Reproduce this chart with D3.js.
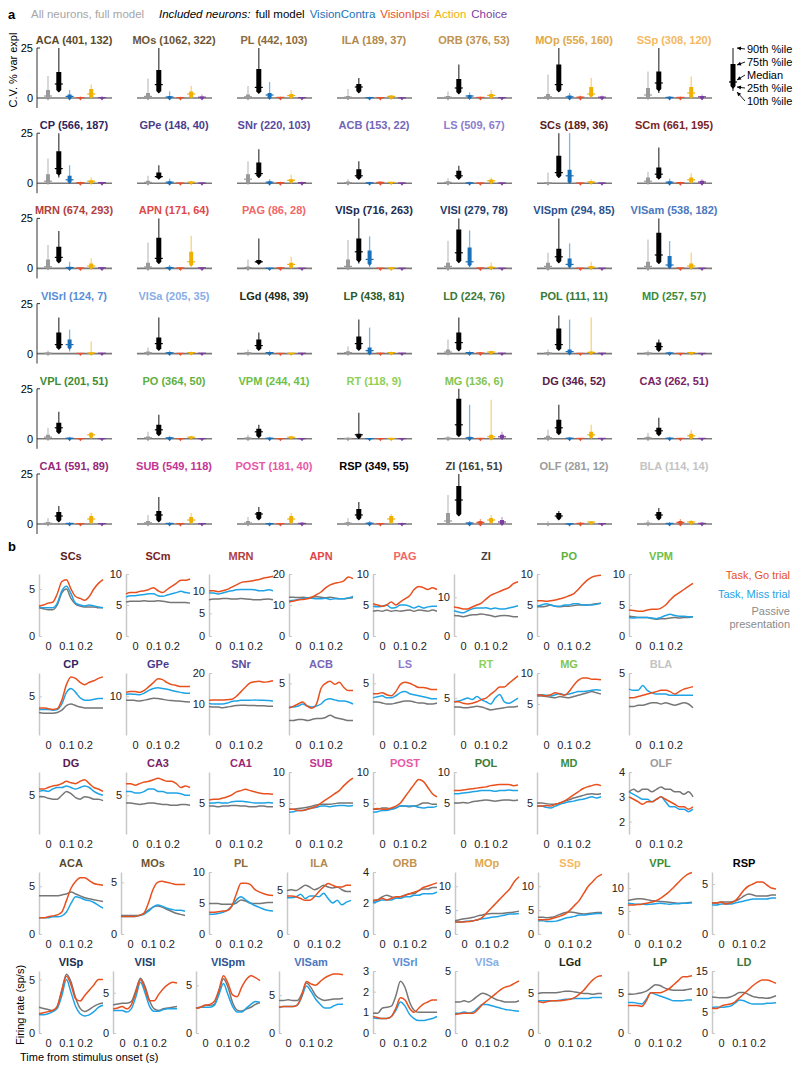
<!DOCTYPE html>
<html><head><meta charset="utf-8">
<script src="https://cdn.jsdelivr.net/npm/d3@7"></script>
<style>body{margin:0;background:#fff}svg{display:block}text{font-family:"Liberation Sans",Arial,sans-serif}</style>
</head><body>
<script>
// ---------------- Panel a data ----------------
const aRegions = ["ACA","MOs","PL","ILA","ORB","MOp","SSp",
 "CP","GPe","SNr","ACB","LS","SCs","SCm",
 "MRN","APN","PAG","VISp","VISl","VISpm","VISam",
 "VISrl","VISa","LGd","LP","LD","POL","MD",
 "VPL","PO","VPM","RT","MG","DG","CA3",
 "CA1","SUB","POST","RSP","ZI","OLF","BLA"];
const aCounts = [[401,132],[1062,322],[442,103],[189,37],[376,53],[556,160],[308,120],
 [566,187],[148,40],[220,103],[153,22],[509,67],[189,36],[661,195],
 [674,293],[171,64],[86,28],[716,263],[279,78],[294,85],[538,182],
 [124,7],[205,35],[498,39],[438,81],[224,76],[111,11],[257,57],
 [201,51],[364,50],[244,41],[118,9],[136,6],[346,52],[262,51],
 [591,89],[549,118],[181,40],[349,55],[161,51],[281,12],[114,14]];
// percentiles [10th,25th,median,75th,90th] of % variance explained
const allFull = [[0,0,1,4,11],[0,0,0.8,2.5,9.7],[0,0,0.6,1.7,6],[0,0,0.4,1,4.5],[0,0,0.4,1,3.3],[0,0,0.6,2,11.7],[0,0.3,1.5,5,13.3],
 [0,0.3,1,4.5,12.3],[0,0,0.4,1.2,3.7],[0,0.3,2,4.5,11],[0,0,0.3,0.8,2],[0,0,0.4,1,2.5],[0,0,0.2,0.5,5.3],[0,0.3,1,2.8,5.7],
 [0,0.2,0.8,4.5,11.7],[0,0,0.7,2.8,13],[0,0,0.4,1,4.5],[0,0.2,1,4.5,14.2],[0,0,1,2.8,13.8],[0,0,1,2.8,7.8],[0,0,1,3.3,14.5],
 [0,0,0.2,0.5,1.5],[0,0,0.4,1,3],[0,0,0.3,0.8,2],[0,0,0.5,1.2,3.5],[0,0.2,0.8,2,7],[0,0,0.3,0.8,2],[0,0,0.3,0.6,1.5],
 [0,0.2,0.8,2,5.5],[0,0,0.5,1.2,3.5],[0,0,0.3,0.8,2],[0,0,0.2,0.4,1],[0,0,0.3,0.6,1.5],[0,0,0.5,1.5,4.5],[0,0,0.4,1,3],
 [0,0,0.4,1,3],[0,0,0.6,1.5,4.5],[0,0,0.5,1.5,3.5],[0,0,0.4,1,3],[0,0.5,1.5,5.5,14.5],[0,0,0.2,0.5,1.5],[0,0,0.3,0.7,2]];
const inclFull = [[3,4,7,13,25],[3.3,3.5,6.7,14,25],[3,3.3,5.3,14.5,25],[3.3,3.5,5.5,7,10],[2.8,3,5,9.5,16.7],[3.5,4,6.7,16.7,25],[2.5,4.5,7.5,13.3,25],
 [2.8,5,7.3,16,25],[2.8,3,3.3,5.3,9],[2.8,3.7,4.8,10.3,17],[2.5,2.8,3.7,7,11],[2.5,2.8,3.7,6.2,8.7],[3.5,3.7,5.3,13.7,25],[2.8,3,4.5,7.8,17.8],
 [3.5,3.7,5.5,10.8,18.7],[3,3.3,5,15.3,25],[2.8,3,3.3,4.2,15],[2.5,4.2,8.3,15,25],[3,3.8,7.8,19.5,25],[3.2,3.7,5.8,9.8,25],[3,3.3,6.7,17.8,25],
 [2.5,3,4.5,10.5,18],[2,2.5,5,8,18],[2,2.5,4,7,10.5],[2,2.5,5,8.5,17],[2,2.3,5.5,10.5,18],[2,2.5,4.5,12.5,19],[1.8,2,3.5,5.5,7],
 [3,3.5,5.5,8,13.5],[2,2.5,4.5,7,12],[1.2,1.5,3.5,5,7],[0.8,1,2,2.5,13],[1.5,2,7,20,25],[2.5,3,5.5,9.5,17],[2,2.5,4,5.5,10.5],
 [1.5,2,4,6,9],[1.5,2,4.5,6.5,13.5],[2.5,3,5,6,8.5],[2.5,3,4.5,7.5,11],[4,5,12,19,25],[2.5,3,4,5.5,6.5],[2.5,3,4.5,6,8]];
const visContra = [[0,0,0.8,1.7,4],[0,0,0.5,1,3.3],[0,0.3,1.5,2.5,8],[0,0,0.2,0.4,0.7],[0,0.3,1,1.5,2.8],[0,0,0.6,1.2,2.5],[0,0,0.3,0.6,1],
 [0,0.7,1.7,3.7,9],[0,0,0.5,1,2.3],[0,0,0.5,1,2],[0,0,0.2,0.4,0.8],[0,0,0.2,0.4,0.8],[0,0.7,3.7,6.7,25],[0,0,0.5,1,2.3],
 [0,0,0.4,0.8,3.3],[0,0,0.4,0.8,1.7],[0,0,0.1,0.2,0.3],[0.5,2.5,4.5,9,16],[0.5,2,3.3,10.5,19],[0.5,1.2,2,5,12.5],[0.3,0.8,1.7,6.2,13.7],
 [1,3,4.5,7,12],[0,0,0.4,0.8,1.5],[0,0,0.5,0.8,1.5],[0,0.3,1.5,3,13],[0,0,0.5,0.8,1.5],[0,0.3,1,2,17],[0,0,0.3,0.5,1],
 [0,0,0.3,0.5,1],[0,0,0.5,0.8,1.5],[0,0,0.3,0.5,1],[0,0,0.1,0.2,0.4],[0,0,0.5,1,17],[0,0,0.3,0.5,1],[0,0,0.3,0.5,1],
 [0,0,0.3,0.5,1],[0,0,0.3,0.5,1],[0,0,0.2,0.4,0.8],[0,0,0.4,0.8,1.5],[0,0,0.5,0.8,1.5],[0,0,0.1,0.2,0.5],[0,0,0.3,0.5,1]];
const visIpsi = [[0,0,0.2,0.4,0.8],[0,0,0.2,0.4,0.7],[0,0,0.3,0.5,0.8],[0,0,0.2,0.3,0.5],[0,0,0.3,0.5,0.8],[0,0,0.4,0.7,1.2],[0,0,0.3,0.5,0.8],
 [0,0,0.3,0.5,0.8],[0,0,0.1,0.2,0.3],[0,0,0.3,0.5,0.8],[0,0,0.4,0.7,1],[0,0,0.1,0.2,0.3],[0,0,0.1,0.2,0.3],[0,0,0.3,0.5,0.8],
 [0,0,0.2,0.4,0.5],[0,0,0.2,0.4,0.5],[0,0,0.3,0.5,0.8],[0,0,0.1,0.2,0.3],[0,0,0.2,0.3,0.5],[0,0,0.1,0.2,0.3],[0,0,0.2,0.3,0.5],
 [0,0,0.1,0.2,0.3],[0,0,0.1,0.2,0.3],[0,0,0.1,0.2,0.3],[0,0,0.2,0.3,0.5],[0,0,0.3,0.5,0.8],[0,0,0.1,0.2,0.3],[0,0,0.1,0.2,0.3],
 [0,0,0.1,0.2,0.3],[0,0,0.1,0.2,0.3],[0,0,0.1,0.2,0.3],[0,0,0.1,0.2,0.3],[0,0,0.2,0.3,0.5],[0,0,0.2,0.3,0.5],[0,0,0.2,0.3,0.5],
 [0,0,0.2,0.3,0.5],[0,0,0.2,0.3,0.5],[0,0,0.2,0.3,0.5],[0,0,0.2,0.3,0.5],[0,0,0.8,1.5,2.5],[0,0,0.3,0.6,1],[0,0,0.8,1.5,2.5]];
const action = [[0.5,0.8,2,4.5,6.7],[0.5,0.8,2,3.3,6],[0.3,0.5,1.2,2,4],[0,0.3,0.8,1.2,1.5],[0.3,0.5,1.3,2,4],[0.8,1.3,2,5.5,10],[0.3,0.8,2.5,5.5,10.8],
 [0,0.3,1,1.5,2.8],[0,0.2,0.5,0.8,1.2],[0.3,0.8,1.5,2,4.2],[0,0.2,0.4,0.6,0.8],[0.2,0.5,1.2,1.8,2.8],[0,0.3,0.6,1,2],[0.5,0.8,1.7,2.8,5],
 [0.3,0.5,1.2,2.5,5],[1.7,2,3.3,8.3,16.3],[0.3,0.8,2,2.8,5.8],[0,0,0.2,0.4,0.5],[0,0.2,0.5,1,3],[0,0.3,0.6,1.2,3.3],[0.3,0.5,1.2,2.5,7.8],
 [0,0,0.3,0.6,6],[0,0.2,0.5,0.8,1],[0,0,0.2,0.3,0.5],[0,0.2,0.5,0.8,1],[0,0.3,0.8,1.2,1.5],[0,0.3,0.6,1,18],[0,0.2,0.5,0.8,1],
 [0.5,1,2,3,3.5],[0.2,0.5,0.8,1.2,1.5],[0.2,0.5,0.8,1.2,1.5],[0,0,0.2,0.3,0.5],[0,0.3,1,2,19.5],[0.5,1,2,3.5,7],[0.3,0.5,1.5,2.5,4.5],
 [0.5,1,2.5,4,5.5],[0.5,1,2,3.5,5.5],[0.5,1,2.5,4,5.5],[0.5,1,2.5,4,5],[0.5,1,2,3,4.5],[0.3,0.5,1,1.2,1.5],[0.3,0.5,1,1.5,2]];
const choice = [[0,0,0.2,0.5,1],[0,0,0.4,0.8,1.7],[0,0,0.2,0.3,0.5],[0,0,0.1,0.2,0.3],[0,0,0.2,0.3,0.5],[0,0,0.4,0.8,1.3],[0,0,0.6,1,1.8],
 [0,0,0.3,0.5,0.7],[0,0,0.1,0.2,0.3],[0,0,0.3,0.5,0.8],[0,0,0.1,0.2,0.3],[0,0,0.1,0.2,0.3],[0,0,0.1,0.2,0.3],[0,0,0.6,1.2,2],
 [0,0,0.3,0.5,0.7],[0,0,0.3,0.5,0.7],[0,0,0.1,0.2,0.3],[0,0,0.1,0.2,0.3],[0,0,0.1,0.2,0.3],[0,0,0.1,0.2,0.3],[0,0,0.1,0.2,0.3],
 [0,0,0.2,0.3,0.5],[0,0,0.2,0.3,0.5],[0,0,0.2,0.3,0.5],[0,0,0.2,0.3,0.5],[0,0,0.2,0.3,0.5],[0,0,0.2,0.3,0.5],[0,0,0.1,0.2,0.3],
 [0,0,0.1,0.2,0.3],[0,0,0.1,0.2,0.3],[0,0,0.1,0.2,0.3],[0,0,0.1,0.2,0.3],[0,0.5,1,2,3.5],[0,0,0.2,0.3,0.5],[0,0,0.2,0.3,0.5],
 [0,0,0.2,0.3,0.5],[0,0,0.2,0.3,0.5],[0,0,0.3,0.6,1],[0,0,0.2,0.4,0.8],[0,0.3,1,2,3.5],[0,0,0.2,0.3,0.5],[0,0,0.3,0.6,1]];
const aAxisTicks = [0,25];

// ---------------- Panel b data ----------------
const tPoints = [-0.05,-0.025,0,0.025,0.05,0.075,0.1,0.125,0.15,0.175,0.2,0.225,0.25,0.275,0.3];
const xTicks = [0,0.1,0.2];
const bRegions = ["SCs","SCm","MRN","APN","PAG","ZI","PO","VPM",
 "CP","GPe","SNr","ACB","LS","RT","MG","BLA",
 "DG","CA3","CA1","SUB","POST","POL","MD","OLF",
 "ACA","MOs","PL","ILA","ORB","MOp","SSp","VPL","RSP",
 "VISp","VISl","VISpm","VISam","VISrl","VISa","LGd","LP","LD"];
const bYDomain = [[0,6.6],[0,10],[0,13.7],[0,20],[0,10],[0,16],[0,10],[0,10],
 [0,8],[0,16],[0,20],[0,6],[0,6],[0,8.4],[0,10],[0,5],
 [0,8],[0,8],[0,10],[0,10],[0,10],[0,10],[0,10],[1.5,4],
 [0,6.5],[0,6],[0,10],[0,7],[0,4],[0,13],[0,13],[0,13.5],[0,6.2],
 [0,5.8],[0,7.7],[0,6.5],[0,8.2],[0,3],[0,5],[0,7.7],[0,7.7],[0,15]];
const bYTicks = [[0,5],[0,5,10],[0,5,10],[0,10,20],[0,5,10],[0,10],[0,5,10],[0,5,10],
 [5],[10],[10,20],[5],[5],[5],[5,10],[5],
 [5],[5],[5],[5,10],[5,10],[5,10],[5],[2,3,4],
 [0,5],[0,5],[0,5,10],[0,5],[0,2,4],[0,5,10],[0,5,10],[0,5,10],[0,5],
 [0,5],[0,5],[0,5],[0,5],[0,1,2,3],[0,5],[0,5],[0,5],[0,5,10,15]];
const goTrial = [
 [3.2,3.3,3.5,3.6,4.5,5.8,6.0,5.0,4.2,4.0,3.8,4.2,5.0,5.6,6.0],
 [6.8,7.0,7.0,7.2,7.3,7.5,7.8,7.3,7.0,7.5,8.0,8.5,9.0,9.0,9.2],
 [10.0,10.0,9.8,10.0,10.3,10.8,11.3,11.8,12.0,12.1,12.3,12.5,12.8,13.0,13.2],
 [11,11.3,11.6,11.8,12,12.5,13.3,14.2,15.5,16.5,17,17.3,17.8,19,18.5],
 [5.2,5.0,4.8,5.0,5.5,5.0,5.5,6.0,6.5,7.5,8.0,7.8,7.5,7.8,7.5],
 [7.5,7.3,7.0,7.0,7.5,8.0,8.5,9.5,10.5,11.0,11.5,12.0,12.5,13.5,14.0],
 [5.7,5.7,5.6,5.7,5.8,6.0,6.2,6.5,6.8,7.5,8.3,9.0,9.5,9.7,9.8],
 [4.2,4.1,4.0,4.0,4.2,4.3,4.3,4.5,5.0,5.8,6.5,7.0,7.5,8.0,8.5],
 [3.5,3.5,3.4,3.3,3.4,4.5,6.5,7.5,7.3,6.8,6.5,6.8,7.0,7.3,7.5],
 [11,11.2,11.2,11.0,11.5,12.5,13.5,14.5,14.3,13.5,13.0,12.8,12.5,12.5,12.5],
 [11.2,11.3,11.3,11.3,11.4,11.5,12.5,14,15.5,16.8,17.2,17.3,17.0,17.2,17.5],
 [2.6,2.8,3.0,3.2,2.8,2.6,3.0,4.5,5.0,5.2,4.9,5.1,4.6,4.3,4.3],
 [4.0,4.0,4.1,3.9,3.8,4.2,4.9,5.1,5.0,4.8,4.6,4.6,4.5,4.4,4.4],
 [4.5,4.5,4.3,4.2,4.3,4.5,4.8,5.0,5.5,6.0,6.5,6.5,7.0,7.5,8.0],
 [6.5,6.4,6.3,6.5,6.8,6.6,6.4,7.0,8.0,8.8,9.2,9.2,9.0,9.0,8.9],
 [3.0,3.0,3.1,3.2,3.3,3.4,3.5,3.6,3.6,3.5,3.3,3.5,3.7,3.8,3.9],
 [5.8,5.8,6.0,6.2,6.3,6.5,6.8,6.6,6.5,6.8,7.0,6.5,6.0,5.8,5.5],
 [6.5,6.5,6.3,6.5,6.7,6.8,7.0,7.2,7.0,6.8,6.8,6.5,6.0,6.2,6.0],
 [5.5,5.6,5.6,5.8,6.0,6.3,6.8,7.0,7.2,7.0,6.8,6.6,6.5,6.5,6.4],
 [4.0,4.0,3.8,3.8,4.0,4.2,4.5,5.0,5.5,6.0,6.5,7.0,7.8,8.5,9.0],
 [4.0,4.1,4.0,4.0,4.2,4.5,5.0,6.0,7.0,8.0,8.8,8.5,7.5,6.5,6.0],
 [7.0,7.0,7.1,7.2,7.3,7.4,7.5,7.6,7.8,7.9,8.0,8.0,8.0,7.8,7.9],
 [4.5,4.5,4.6,4.5,4.8,5.0,5.3,5.8,6.3,6.8,7.3,7.6,7.8,8.0,7.8],
 [3.0,2.9,2.8,2.7,2.8,2.8,2.9,3.0,2.9,2.8,2.7,2.6,2.6,2.5,2.6],
 [1.7,1.7,1.8,1.9,2.0,2.3,3.5,4.8,5.5,5.9,5.9,5.6,5.3,5.2,5.1],
 [1.7,1.7,1.7,1.7,1.8,2.0,3.0,4.3,5.0,5.1,5.0,4.9,4.8,4.8,4.8],
 [3.5,3.5,3.6,3.7,3.8,4.5,6.5,8.2,8.2,8.0,7.2,6.8,6.5,6.3,6.2],
 [4.3,4.3,4.2,4.0,3.8,3.8,4.2,4.8,5.3,5.7,5.5,5.3,5.3,5.5,5.5],
 [2.2,2.2,2.3,2.2,2.3,2.4,2.4,2.5,2.6,2.7,2.8,3.0,3.1,3.2,3.3],
 [2.5,2.5,2.5,2.6,2.8,3.0,3.5,4.5,5.5,6.5,7.5,8.5,9.5,11,12],
 [3,3,3,3.2,3.5,3.8,4.2,5,6,7,8.5,10,11,12,12.5],
 [6.3,6.3,6.4,6.5,6.7,6.9,7.2,7.7,8.4,9.2,10.2,11.2,12.2,13.0,13.4],
 [3.1,3.1,3.2,3.0,3.1,3.3,3.8,4.4,4.8,5.0,5.2,5.2,4.9,4.6,4.5],
 [1.8,1.9,2.0,2.1,2.5,4.0,5.3,4.5,3.2,3.0,3.5,4.0,4.5,5.0,5.0],
 [3.0,3.1,3.3,3.0,3.5,5.0,6.6,5.5,4.0,4.0,4.8,5.5,6.0,6.3,6.2],
 [2.6,2.7,2.9,3.0,3.3,4.5,6.0,5.2,4.0,3.8,4.8,5.6,6.0,5.8,5.5],
 [3.4,3.5,3.5,3.5,3.7,5.0,6.8,6.5,6.3,6.8,7.3,7.6,7.8,7.8,7.7],
 [0.8,0.75,0.7,0.7,0.8,1.2,1.7,1.6,1.2,1.0,1.2,1.4,1.5,1.6,1.6],
 [1.5,1.55,1.6,1.6,1.6,1.9,2.3,2.6,2.9,3.2,3.5,3.7,3.8,4.0,4.2],
 [3.9,3.8,3.9,4.0,4.0,4.0,4.1,4.2,4.4,4.8,5.3,6.0,6.6,7.0,7.1],
 [3.4,3.4,3.4,3.3,4.0,5.0,5.0,5.0,5.2,5.5,6.0,6.5,7.0,7.0,7.1],
 [6.0,5.9,6.5,6.8,7.0,7.5,8.5,9.5,10.5,11.5,12.3,12.8,12.8,12.5,12.0]];
const missTrial = [
 [3.1,3.0,3.0,3.0,3.5,4.8,5.3,4.5,3.5,3.3,3.2,3.3,3.2,3.1,3.0],
 [6.3,6.5,6.5,6.6,6.7,6.8,6.8,6.5,6.4,6.6,6.8,7.0,7.2,7.0,6.9],
 [9.5,9.5,9.3,9.5,9.8,10.0,10.2,10.3,10.3,10.3,10.2,10.0,10.0,10.2,10.0],
 [11.3,11.5,11.8,12,12.3,12.2,12,12,12.2,11.8,12,12,12,12.3,12.8],
 [4.8,4.7,4.8,5.0,4.5,4.6,5.0,5.0,4.8,4.5,4.8,4.5,4.7,4.8,4.8],
 [6.5,6.2,6.0,6.5,7.0,7.2,7.2,7.3,7.0,7.2,7.0,7.0,7.2,7.5,7.8],
 [4.8,5.0,5.2,5.0,4.8,4.8,5.0,5.0,5.2,5.2,5.0,5.0,5.0,5.1,5.3],
 [3.0,2.9,3.0,3.0,3.0,2.9,2.8,3.0,3.3,3.5,3.3,3.2,3.2,3.1,3.1],
 [3.3,3.3,3.3,3.2,3.3,4.0,5.5,6.0,5.5,4.8,4.5,4.5,4.6,4.7,4.7],
 [10.5,10.6,10.5,10.4,10.8,11.5,12.0,12.2,12.0,11.8,11.5,11.2,11.0,10.8,10.8],
 [10.2,10,10,10,10.3,10.8,11,11.2,11.2,11.2,11.3,11.2,11.2,11.1,11],
 [2.7,2.7,2.8,3.0,2.8,2.7,2.8,3.0,3.4,3.5,3.4,3.3,3.3,3.2,3.0],
 [3.6,3.7,3.8,3.6,3.6,3.8,4.1,4.2,4.0,3.9,3.8,3.7,3.6,3.5,3.5],
 [4.5,4.6,4.8,5.0,4.8,5.2,4.8,4.5,4.2,5.0,5.5,4.5,4.3,4.6,5.0],
 [6.5,6.5,6.4,6.3,6.5,6.7,6.5,6.6,6.8,7.0,7.0,7.1,7.2,7.3,7.2],
 [3.7,3.6,3.6,4.0,3.6,3.4,3.3,3.3,3.3,3.2,3.2,3.2,3.2,3.2,3.2],
 [5.5,5.6,5.5,5.8,6.0,6.0,6.2,6.0,5.8,6.0,6.2,6.0,5.5,5.2,5.0],
 [5.5,5.5,5.3,5.3,5.5,5.8,5.8,5.5,5.5,5.3,5.3,5.3,5.2,5.0,5.0],
 [5.0,5.0,5.1,5.0,5.0,5.2,5.3,5.3,5.2,5.1,5.0,5.0,5.0,5.1,5.0],
 [3.5,3.6,3.8,3.8,4.0,4.2,4.3,4.5,4.5,4.4,4.5,4.6,4.6,4.5,4.6],
 [3.5,3.6,3.8,3.8,4.0,4.2,4.5,4.5,4.5,4.5,4.3,4.2,4.3,4.3,4.5],
 [6.5,6.5,6.6,6.7,6.8,6.9,7.0,7.0,7.0,6.9,7.0,7.0,7.1,7.0,7.0],
 [4.5,4.5,4.3,4.2,4.5,4.8,5.0,5.2,5.3,5.5,5.6,5.8,6.0,5.8,6.0],
 [3.2,3.1,3.0,2.9,2.9,2.8,2.9,3.0,2.8,2.6,2.6,2.5,2.5,2.4,2.5],
 [1.7,1.7,1.7,1.8,1.8,1.9,2.3,3.2,3.9,3.8,3.6,3.5,3.3,3.0,2.7],
 [1.7,1.7,1.7,1.7,1.8,1.9,2.2,2.6,2.8,2.7,2.5,2.4,2.3,2.3,2.2],
 [3.2,3.2,3.3,3.5,3.8,4.5,5.5,6.0,5.5,5.0,4.6,4.3,4.0,3.8,3.7],
 [4.1,4.1,4.2,4.5,4.0,4.3,4.3,4.2,4.6,4.0,3.5,3.8,3.3,3.6,3.8],
 [2.0,2.1,2.2,2.2,2.2,2.3,2.3,2.4,2.4,2.5,2.5,2.6,2.6,2.6,2.7],
 [2.5,2.5,2.6,2.7,2.8,3.0,3.2,3.3,3.5,3.6,3.8,4.0,4.2,4.2,4.3],
 [2.8,2.8,2.6,2.6,2.7,3.0,3.3,3.5,3.7,4.0,4.0,4.1,4.2,4.3,4.3],
 [6.7,6.6,6.5,6.5,6.4,6.5,6.6,6.7,6.6,6.5,6.6,6.6,6.7,6.7,6.8],
 [2.9,2.9,3.0,3.0,3.0,3.1,3.2,3.3,3.4,3.5,3.5,3.5,3.5,3.6,3.6],
 [1.7,1.7,1.8,2.0,2.3,3.5,5.0,3.8,2.5,1.8,1.6,1.7,2.0,2.4,2.6],
 [2.8,2.8,2.8,2.6,3.0,4.5,6.3,5.0,3.3,2.7,2.7,2.9,3.0,3.0,3.0],
 [2.6,2.7,2.7,2.7,2.9,4.0,5.2,4.0,2.8,2.2,2.2,2.6,3.0,3.3,3.2],
 [3.4,3.5,3.5,3.5,3.7,4.8,6.2,5.5,4.5,3.8,3.3,3.3,3.6,3.8,3.8],
 [0.75,0.7,0.7,0.7,0.8,1.1,1.5,1.3,0.9,0.7,0.6,0.6,0.65,0.7,0.8],
 [1.6,1.6,1.7,1.6,1.7,2.0,2.3,2.3,2.2,2.1,2.0,1.9,1.85,1.8,1.75],
 [4.0,4.0,4.0,4.0,4.0,4.1,4.2,4.2,4.3,4.3,4.3,4.3,4.4,4.4,4.4],
 [3.8,3.8,3.7,3.6,4.2,5.0,4.8,4.6,4.4,4.2,4.0,4.0,4.0,4.1,4.1],
 [6.2,6.3,6.2,6.3,6.5,7.2,8.0,7.8,7.3,7.0,7.0,7.0,7.2,7.2,7.3]];
const passive = [
 [3.0,2.9,2.8,2.8,3.3,4.6,5.0,4.0,3.4,3.2,3.1,3.1,3.1,3.0,3.0],
 [5.5,5.6,5.6,5.6,5.7,5.6,5.6,5.7,5.6,5.5,5.4,5.4,5.4,5.4,5.3],
 [8.0,8.2,8.2,8.3,8.3,8.2,8.2,8.3,8.2,8.1,8.0,8.0,8.1,8.2,8.0],
 [12.5,12.5,12.4,12.5,12.3,12.5,12.7,12.5,12.3,12.5,12.3,12.0,12.0,12.2,12.3],
 [4.0,4.1,4.0,4.2,4.0,4.1,4.0,4.1,4.2,4.0,4.2,4.1,4.0,4.2,4.0],
 [5.3,5.2,5.0,5.2,5.5,5.5,5.7,5.5,5.3,5.0,5.2,5.3,5.2,5.0,5.0],
 [4.7,4.7,4.8,5.0,4.8,4.7,4.8,4.8,4.9,5.0,5.0,5.0,5.1,5.2,5.3],
 [3.2,3.1,3.0,3.0,3.0,2.8,2.7,2.8,2.8,2.9,3.0,2.9,3.0,3.0,3.1],
 [2.9,2.8,2.8,2.8,2.9,3.2,3.8,4.0,3.8,3.6,3.5,3.5,3.5,3.5,3.5],
 [9.0,9.0,8.9,8.8,9.0,9.2,9.5,9.4,9.2,9.0,8.9,8.8,8.7,8.6,8.5],
 [9.2,9.0,9.0,8.8,9.0,9.3,9.5,9.6,9.6,9.5,9.5,9.4,9.4,9.3,9.3],
 [1.4,1.4,1.5,1.5,1.4,1.5,1.6,1.6,1.7,1.9,1.7,1.6,1.5,1.4,1.4],
 [3.2,3.2,3.1,3.0,3.0,3.1,3.2,3.3,3.3,3.2,3.1,3.1,3.0,3.0,3.1],
 [3.8,3.8,3.7,3.7,3.8,3.9,3.8,3.6,3.4,3.5,3.6,3.7,3.8,3.8,3.9],
 [6.3,6.3,6.2,6.1,6.0,6.2,6.1,6.0,6.2,6.4,6.6,6.8,7.0,6.8,6.6],
 [2.3,2.3,2.4,2.4,2.5,2.6,2.6,2.5,2.6,2.5,2.4,2.5,2.6,2.5,2.2],
 [4.8,4.8,4.6,4.5,4.5,5.0,5.5,5.2,4.7,4.5,4.8,4.7,4.5,4.5,4.3],
 [4.0,4.0,3.9,3.8,3.9,4.0,4.0,3.9,3.8,3.8,3.7,3.7,3.8,3.8,3.7],
 [4.5,4.5,4.4,4.5,4.5,4.6,4.6,4.5,4.5,4.4,4.4,4.5,4.5,4.4,4.4],
 [4.0,4.0,4.1,4.2,4.3,4.5,4.7,4.8,4.8,4.8,4.9,5.0,5.0,5.0,5.0],
 [4.0,4.0,4.2,4.2,4.0,4.2,4.5,4.5,4.4,4.5,4.7,5.0,5.0,4.8,4.8],
 [5.0,5.0,5.1,5.0,5.2,5.3,5.4,5.5,5.4,5.3,5.4,5.5,5.5,5.4,5.5],
 [5.0,5.0,4.9,4.8,4.8,5.0,5.3,5.5,5.8,6.0,6.2,6.4,6.5,6.4,6.5],
 [3.2,3.3,3.2,3.3,3.3,3.2,3.3,3.4,3.3,3.3,3.2,3.2,3.1,3.2,3.0],
 [4.0,4.0,4.0,4.0,4.0,4.1,4.2,4.4,4.2,4.0,3.8,3.7,3.6,3.5,3.4],
 [1.8,1.8,1.8,1.8,1.8,2.0,2.3,2.6,2.7,2.6,2.4,2.2,2.0,1.9,1.8],
 [4.9,4.9,4.9,4.8,4.8,4.8,5.0,5.5,5.3,5.0,4.9,4.9,5.0,5.1,5.1],
 [4.9,5.0,4.9,5.2,5.5,5.3,5.0,5.2,5.5,5.3,5.2,5.3,5.0,4.8,4.8],
 [2.1,2.2,2.4,2.5,2.4,2.3,2.4,2.5,2.6,2.6,2.8,2.9,2.9,3.0,3.0],
 [2.8,3.0,3.2,3.3,3.5,3.8,4.0,4.2,4.3,4.3,4.3,4.4,4.5,4.6,4.8],
 [3.5,3.5,3.4,3.5,3.8,4.2,4.5,4.6,4.5,4.3,4.2,4.3,4.4,4.5,4.5],
 [7.3,7.5,7.7,7.7,7.5,7.3,7.2,7.1,7.0,6.9,6.8,6.7,6.7,6.8,6.9],
 [3.1,3.1,3.2,3.2,3.2,3.3,3.5,3.8,4.0,3.9,3.8,3.8,3.8,3.9,3.9],
 [2.4,2.3,2.2,2.1,2.5,4.0,5.5,4.8,3.3,2.3,2.0,2.2,2.5,2.7,2.8],
 [3.5,3.6,3.7,3.7,3.9,5.3,6.8,5.8,4.0,3.0,2.8,3.0,3.1,3.2,3.3],
 [2.6,2.7,2.9,2.9,3.0,4.3,5.7,4.8,3.2,2.4,2.3,2.5,2.7,3.0,3.2],
 [4.3,4.3,4.4,4.3,4.3,5.2,6.6,6.0,5.0,4.5,4.3,4.4,4.5,4.5,4.6],
 [0.95,0.95,1.2,1.25,1.3,1.8,2.5,2.2,1.5,1.1,1.0,1.0,1.0,1.0,1.0],
 [2.5,2.5,2.6,2.5,2.7,3.0,3.2,3.1,2.9,2.7,2.6,2.5,2.5,2.5,2.6],
 [4.9,5.0,5.0,5.0,5.0,5.1,5.2,5.2,5.1,5.0,4.9,4.9,4.8,4.9,4.9],
 [4.8,4.8,4.9,5.0,5.2,5.6,6.0,5.9,5.6,5.4,5.3,5.3,5.3,5.4,5.5],
 [8.7,8.6,8.5,8.5,8.7,9.2,9.8,9.8,9.3,8.8,8.6,8.5,8.4,8.6,9.0]];

// ---------------- styles ----------------
const regionColor = {ACA:"#5b4a2c",MOs:"#6b5532",PL:"#8a6a3a",ILA:"#b08a50",ORB:"#c0924e",MOp:"#e0a848",SSp:"#f5b860",
 CP:"#2c2460",GPe:"#4a3c8c",SNr:"#5a4a9e",ACB:"#7565b8",LS:"#8c7ccc",SCs:"#5a1c1c",SCm:"#7a2424",
 MRN:"#b04040",APN:"#e04848",PAG:"#f06868",VISp:"#1c2c50",VISl:"#223c6c",VISpm:"#2c5290",VISam:"#4a78c0",
 VISrl:"#5a8ed6",VISa:"#88aee6",LGd:"#1c2c1c",LP:"#2a5c2a",LD:"#3a7a3a",POL:"#3a7a34",MD:"#3c8c3c",
 VPL:"#3c8c34",PO:"#60b040",VPM:"#6cbf48",RT:"#8cd058",MG:"#84c450",DG:"#5a1c4a",CA3:"#7a2464",
 CA1:"#962878",SUB:"#c43494",POST:"#e858a8",RSP:"#000000",ZI:"#404040",OLF:"#9c9c9c",BLA:"#c4c4c4"};
const seriesStyle = [
 {whisker:"#c4c4c4", box:"#9a9a9a", w:4},
 {whisker:"#4a4a4a", box:"#000000", w:5},
 {whisker:"#7fb6e2", box:"#1a70b8", w:4},
 {whisker:"#f3a185", box:"#e8502a", w:4},
 {whisker:"#f7d27a", box:"#f0b000", w:4},
 {whisker:"#c5a3dc", box:"#7b3fa0", w:4}];
const legendColors = ["#a6a6a6","#000000","#1a72bb","#e8502a","#f0b000","#7b3fa0"];
const lineColors = {go:"#e8501e", miss:"#1ea3e6", passive:"#767676"};

const svg = d3.select("body").append("svg").attr("width",800).attr("height",1072);
const FONT = 11;

// ---------- Panel a ----------
svg.append("text").attr("x",8).attr("y",19).attr("font-size",13).attr("font-weight","bold").text("a");
const legA = svg.append("g").attr("font-size",11.5);
let prevEnd = 0;
[["All neurons, full model",legendColors[0],31,"normal"],["Included neurons:","#000",159,"italic"],
 ["full model",legendColors[1],249,"normal"],["VisionContra",legendColors[2],300,"normal"],
 ["VisionIpsi",legendColors[3],367,"normal"],["Action",legendColors[4],418,"normal"],["Choice",legendColors[5],453,"normal"]]
 .forEach(d=>{
   const x = Math.max(d[2], prevEnd + 5);
   const t = legA.append("text").attr("x",x).attr("y",18).attr("fill",d[1]).attr("font-style",d[3]).text(d[0]);
   prevEnd = x + t.node().getComputedTextLength();
 });

const all6 = [allFull,inclFull,visContra,visIpsi,action,choice];
const yA = d3.scaleLinear().domain([0,25]).range([0,-50]);
aRegions.forEach((reg,i)=>{
  const r = Math.floor(i/7), c = i%7;
  const x0 = 37 + c*100, base = 98 + r*85.2;
  const g = svg.append("g").attr("transform",`translate(${x0},${base})`);
  g.append("text").attr("x",37).attr("y",-54).attr("text-anchor","middle").attr("font-size",FONT)
   .attr("font-weight","bold").attr("fill",regionColor[reg]).text(`${reg} (${aCounts[i][0]}, ${aCounts[i][1]})`);
  g.append("line").attr("x1",0).attr("x2",75).attr("y1",0).attr("y2",0).attr("stroke","#7a7a7a").attr("stroke-width",1.6);
  all6.forEach((ser,s)=>{
    const st = seriesStyle[s], v = ser[i], x = 11 + s*10.8, hw = st.w/2;
    g.append("line").attr("x1",x).attr("x2",x).attr("y1",yA(v[0])).attr("y2",yA(v[4]))
      .attr("stroke",st.whisker).attr("stroke-width",1.3);
    const y25=yA(v[1]), y75=yA(v[3]);
    g.append("path").attr("d",`M${x-hw},${y75}L${x+hw},${y75}L${x+hw},${y25}L${x},${y25+2.5}L${x-hw},${y25}Z`)
      .attr("fill",st.box);
    g.append("line").attr("x1",x-4).attr("x2",x+4).attr("y1",yA(v[2])).attr("y2",yA(v[2]))
      .attr("stroke",st.box).attr("stroke-width",1.2);
  });
  if(c===0){
    const ax = g.append("g");
    ax.append("line").attr("x1",0).attr("x2",0).attr("y1",yA(25)).attr("y2",10).attr("stroke","#333").attr("stroke-width",1);
    ax.append("line").attr("x1",0).attr("x2",3).attr("y1",yA(25)).attr("y2",yA(25)).attr("stroke","#333");
    aAxisTicks.forEach(t=>ax.append("text").attr("x",-4).attr("y",yA(t)+4).attr("text-anchor","end")
      .attr("font-size",FONT).text(t));
  }
});
svg.append("text").attr("transform","translate(17,70) rotate(-90)").attr("text-anchor","middle")
  .attr("font-size",FONT).text("C.V. % var expl");

// percentile legend glyph
const lg = svg.append("g").attr("transform","translate(733,0)");
lg.append("line").attr("x1",0).attr("x2",0).attr("y1",48).attr("y2",91).attr("stroke","#4a4a4a").attr("stroke-width",1.3);
lg.append("path").attr("d","M-2.5,64L2.5,64L2.5,86L0,89L-2.5,86Z").attr("fill","#000");
lg.append("line").attr("x1",-4).attr("x2",4).attr("y1",82).attr("y2",82).attr("stroke","#000").attr("stroke-width",1.2);
const pctl = [["90th %ile",49,48],["75th %ile",62,65],["Median",75,80],["25th %ile",88,87],["10th %ile",101,92]];
pctl.forEach(p=>{
  lg.append("text").attr("x",14).attr("y",p[1]+4).attr("font-size",FONT).text(p[0]);
  lg.append("line").attr("x1",12).attr("y1",p[1]).attr("x2",4).attr("y2",p[2]).attr("stroke","#000").attr("stroke-width",0.9);
  const ang = Math.atan2(p[2]-p[1], 4-12);
  const hx=4, hy=p[2];
  lg.append("path").attr("d",`M${hx},${hy}L${hx-4*Math.cos(ang)+2*Math.sin(ang)},${hy-4*Math.sin(ang)-2*Math.cos(ang)}L${hx-4*Math.cos(ang)-2*Math.sin(ang)},${hy-4*Math.sin(ang)+2*Math.cos(ang)}Z`).attr("fill","#000");
});

// ---------- Panel b ----------
svg.append("text").attr("x",8).attr("y",551).attr("font-size",13).attr("font-weight","bold").text("b");
const rowCounts = [8,8,8,9,9];
const rowBottoms = [636,735,834,934,1033];
const titleOffset = [-14,-5,-5,-5,-5];
const colX = [[39,126,209,289,373,454,537,629],[39,126,209,289,373,454,537,629],[39,126,209,289,373,454,537,629],
  [39,121,209,287,373,455,538,628,712],[39,113,196,279,373,455,538,628,712]];
const PW = 64, PH = 62;
const xB = d3.scaleLinear().domain([-0.05,0.3]).range([0,PW]);
let idx = 0;
rowCounts.forEach((n,r)=>{
  for(let c=0;c<n;c++,idx++){
    const reg = bRegions[idx];
    const top = rowBottoms[r]-PH;
    const g = svg.append("g").attr("transform",`translate(${colX[r][c]},${top})`);
    const y = d3.scaleLinear().domain(bYDomain[idx]).range([PH,0]);
    const ax = g.append("g").call(d3.axisLeft(y).tickValues(bYTicks[idx]).tickSizeInner(-3).tickSizeOuter(0).tickPadding(4).tickFormat(d3.format("~g")));
    ax.select(".domain").attr("stroke","#c8c8c8").attr("stroke-width",1.5);
    ax.selectAll(".tick line").attr("stroke","#c8c8c8");
    ax.selectAll("text").attr("font-size",FONT).attr("fill","#222").style("font-family",'"Liberation Sans",Arial,sans-serif');
    const xa = g.append("g").attr("transform",`translate(0,${PH})`)
      .call(d3.axisBottom(xB).tickValues(xTicks).tickSize(0).tickPadding(6).tickFormat(d3.format("~g")));
    xa.select(".domain").remove();
    xa.selectAll("text").attr("font-size",FONT).attr("fill","#222").style("font-family",'"Liberation Sans",Arial,sans-serif');
    const line = d3.line().x((d,k)=>xB(tPoints[k])).y(d=>y(d)).curve(d3.curveMonotoneX);
    [[passive,lineColors.passive],[missTrial,lineColors.miss],[goTrial,lineColors.go]].forEach(([arr,col])=>{
      g.append("path").attr("d",line(arr[idx])).attr("fill","none").attr("stroke",col).attr("stroke-width",1.5);
    });
    g.append("text").attr("x",PW/2).attr("y",titleOffset[r]).attr("text-anchor","middle").attr("font-size",FONT)
      .attr("font-weight","bold").attr("fill",regionColor[reg]).text(reg);
  }
});
// legend b
[["Task, Go trial",lineColors.go,579],["Task, Miss trial",lineColors.miss,598],["Passive","#8a8a8a",615],["presentation","#8a8a8a",628]]
 .forEach(d=>svg.append("text").attr("x",790).attr("y",d[2]).attr("text-anchor","end").attr("font-size",FONT).attr("fill",d[1]).text(d[0]));
svg.append("text").attr("transform","translate(24,1005) rotate(-90)").attr("text-anchor","middle").attr("font-size",FONT).text("Firing rate (sp/s)");
svg.append("text").attr("x",20).attr("y",1061).attr("font-size",FONT).text("Time from stimulus onset (s)");
</script>
</body></html>
